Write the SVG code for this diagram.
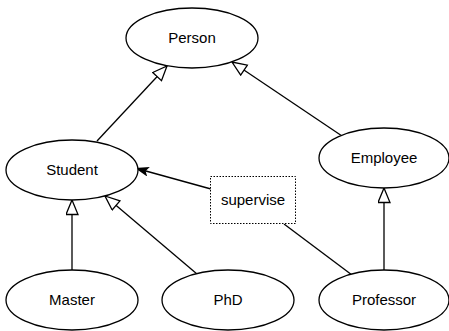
<svg xmlns="http://www.w3.org/2000/svg" width="449" height="331" viewBox="0 0 449 331">
<style>
.node ellipse{fill:#fff;stroke:#000;stroke-width:1.3}
.node text{font-family:"Liberation Sans",Arial,sans-serif;font-size:15px;text-anchor:middle;fill:#000}
.edge{stroke:#000;stroke-width:1.3;fill:none}
.gen{marker-end:url(#hollow)}
.assoc{marker-end:url(#filled)}
</style>
<defs>
<marker id="hollow" markerUnits="userSpaceOnUse" markerWidth="17" markerHeight="15" refX="15.5" refY="6.5" orient="auto">
<path d="M1,0.5 L15.5,6.5 L1,12.5 z" fill="#fff" stroke="#000" stroke-width="1.3"/>
</marker>
<marker id="filled" markerUnits="userSpaceOnUse" markerWidth="15" markerHeight="12" refX="14" refY="5" orient="auto">
<path d="M0,0 L14,5 L0,10 L3,5 z" fill="#000"/>
</marker>
</defs>
<rect width="449" height="331" fill="#fff"/>
<g id="connectors">
<line class="edge gen" x1="97" y1="141" x2="167" y2="66"/>
<line class="edge gen" x1="345" y1="138" x2="232" y2="62"/>
<line class="edge gen" x1="72" y1="270" x2="72" y2="200"/>
<line class="edge gen" x1="197" y1="274" x2="105" y2="196"/>
<line class="edge gen" x1="384" y1="270" x2="384" y2="188"/>
<line class="edge assoc" x1="211" y1="189" x2="135" y2="168"/>
<line class="edge" x1="284" y1="224" x2="352" y2="275"/>
</g>
<g id="person" class="node"><ellipse cx="192" cy="38" rx="66" ry="30"/><text x="192" y="43">Person</text></g>
<g id="student" class="node"><ellipse cx="72" cy="170" rx="66" ry="30"/><text x="72" y="175">Student</text></g>
<g id="employee" class="node"><ellipse cx="384" cy="158" rx="65" ry="30"/><text x="384" y="163">Employee</text></g>
<g id="master" class="node"><ellipse cx="72" cy="300" rx="66" ry="30"/><text x="72" y="305">Master</text></g>
<g id="phd" class="node"><ellipse cx="228" cy="300" rx="66" ry="30"/><text x="228" y="305">PhD</text></g>
<g id="professor" class="node"><ellipse cx="384" cy="300" rx="65" ry="30"/><text x="384" y="305">Professor</text></g>
<g id="supervise">
<rect x="210.5" y="176.5" width="85" height="47" fill="#fff" stroke="#000" stroke-width="1" stroke-dasharray="1.5,1.5"/>
<text x="253" y="205" font-family="Liberation Sans,Arial,sans-serif" font-size="15" text-anchor="middle">supervise</text>
</g>
</svg>
